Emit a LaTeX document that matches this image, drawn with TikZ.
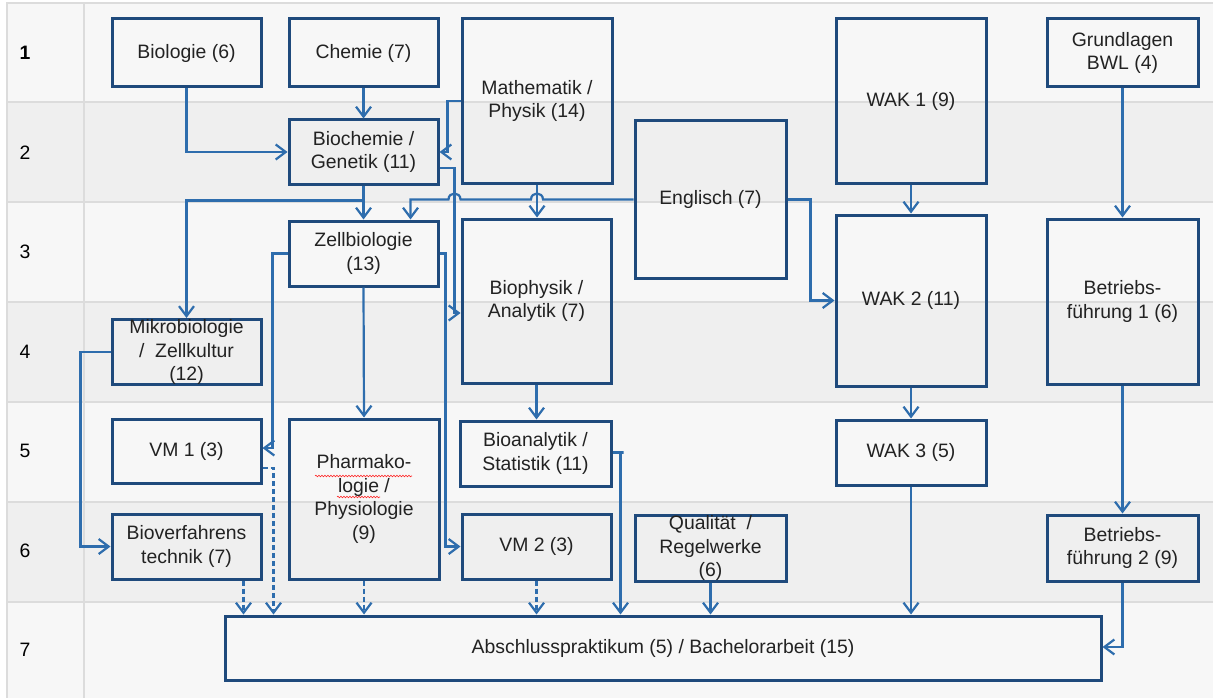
\documentclass[tikz,border=0pt]{standalone}
\usepackage{fontspec}
\setmainfont{Liberation Sans}
\usetikzlibrary{arrows.meta,calc,decorations.pathmorphing}

\definecolor{boxblue}{HTML}{1F4A7C}
\definecolor{arrblue}{HTML}{2E6DAD}
\definecolor{rowlight}{HTML}{F7F7F7}
\definecolor{rowdark}{HTML}{EFEFEF}
\definecolor{gridgray}{HTML}{DCDCDC}
\definecolor{txtgray}{HTML}{222222}
\newcommand{\modfont}{\fontsize{19.4}{23.5}\selectfont}

\tikzset{
  modul/.style={draw=boxblue, line width=3pt, align=center, text=txtgray, inner sep=0pt, font=\modfont},
  arr/.style={draw=arrblue, line width=2.2pt, -{Straight Barb[length=10pt,width=15pt,line width=2.2pt]}},
  darr/.style={arr, dash pattern=on 5pt off 3pt},
}

\begin{document}
\begin{tikzpicture}[x=1pt,y=-1pt]
    \useasboundingbox (0,0) rectangle (1213,698);
    \fill[white] (0,0) rectangle (1213,698);

    % table rows
    \foreach \r/\col in {1/rowlight,2/rowdark,3/rowlight,4/rowdark,5/rowlight,6/rowdark,7/rowlight} {
        \fill[\col] (7,{2+(\r-1)*100}) rectangle (1213,{2+\r*100});
    }
    \foreach \yy in {102,202,302,402,502,602} {
        \draw[gridgray, line width=2pt] (7,\yy) -- (1213,\yy);
    }
    \draw[gridgray, line width=2pt] (1213,3) -- (7,3) -- (7,698);
    \draw[gridgray, line width=1.5pt] (84,3) -- (84,698);
    \foreach \r in {1,...,7} {
        \node[font=\modfont, text=black] (row\r) at (25,{53+(\r-1)*99.5}) {\ifnum\r=1\bfseries\fi\r};
    }

    % modules
    \node[modul, minimum width=149pt, minimum height=68pt] (bio) at (186.5,53) {Biologie (6)};
    \node[modul, minimum width=149pt, minimum height=68pt] (chem) at (363.5,53) {Chemie (7)};
    \node[modul, minimum width=150pt, minimum height=164pt] (math) at (537,101) {Mathematik /\\Physik (14)};
    \node[modul, minimum width=150pt, minimum height=164pt] (wak1) at (911,101) {WAK 1 (9)};
    \node[modul, minimum width=151pt, minimum height=68pt] (bwl) at (1122.5,53) {Grundlagen\\BWL (4)};
    \node[modul, minimum width=149pt, minimum height=64pt] (bioch) at (363.5,152) {Biochemie /\\Genetik (11)};
    \node[modul, minimum width=151pt, minimum height=157pt] (engl) at (710.5,199.5) {Englisch (7)};
    \node[modul, minimum width=149pt, minimum height=65pt] (zell) at (363.5,253.5) {Zellbiologie\\(13)};
    \node[modul, minimum width=149pt, minimum height=164pt] (biophys) at (536.5,301) {Biophysik /\\Analytik (7)};
    \node[modul, minimum width=150pt, minimum height=171pt] (wak2) at (911,300.5) {WAK 2 (11)};
    \node[modul, minimum width=151pt, minimum height=165pt] (bf1) at (1122.5,301.5) {Betriebs-\\führung 1 (6)};
    \node[modul, minimum width=149pt, minimum height=64pt] (mikro) at (186.5,352) {Mikrobiologie\\/\ \ Zellkultur\\(12)};
    \node[modul, minimum width=149pt, minimum height=64pt] (vm1) at (186.5,451) {VM 1 (3)};
    \node[modul, minimum width=150pt, minimum height=160pt] (pharma) at (364,499) {Pharmako-\\logie /\\Physiologie\\(9)};
    \node[modul, minimum width=151pt, minimum height=65pt] (bioana) at (535.5,453.5) {Bioanalytik /\\Statistik (11)};
    \node[modul, minimum width=150pt, minimum height=65pt] (wak3) at (911,452.5) {WAK 3 (5)};
    \node[modul, minimum width=149pt, minimum height=65pt] (biov) at (186.5,546.5) {Bioverfahrens\\technik (7)};
    \node[modul, minimum width=149pt, minimum height=65pt] (vm2) at (536.5,546.5) {VM 2 (3)};
    \node[modul, minimum width=151pt, minimum height=66pt] (qual) at (710.5,548) {Qualität\ \ /\\Regelwerke\\(6)};
    \node[modul, minimum width=151pt, minimum height=66pt] (bf2) at (1122.5,548) {Betriebs-\\führung 2 (9)};
    \node[modul, minimum width=876pt, minimum height=64pt] (absch) at (663,648) {Abschlusspraktikum (5) / Bachelorarbeit (15)};

    % spell-check marks
    \draw[red!85, line width=0.6pt, decorate, decoration={snake, amplitude=0.8pt, segment length=3pt}] ($(pharma.center)+(-49,-23)$) -- ($(pharma.center)+(48,-23)$);
    \draw[red!85, line width=0.6pt, decorate, decoration={snake, amplitude=0.8pt, segment length=3pt}] ($(pharma.center)+(-27,-2)$) -- ($(pharma.center)+(16,-2)$);

    \coordinate (hopA) at (math.south |- engl.west);
    \coordinate (bcR) at ($(bioch.east)+(15,16)$);
    \coordinate (hopB) at (bcR |- engl.west);
    \coordinate (zellE) at ($(zell.north east)+(-29,0)$);
    \coordinate (biovD) at ($(biov.south east)+(-19,0)$);

    % connectors
    \draw[arr] (bio.south) |- (bioch.west);
    \draw[arr] (chem.south) -- (bioch.north);
    \draw[arr] (math.west) -- ++(-13,0) |- (bioch.east);
    \draw[arr] ($(bioch.east)+(0,16)$) -- (bcR) |- ($(biophys.west)+(0,12)$);
    \draw[arr] (bioch.south) -- (zell.north);
    \draw[arr] (bioch.south) -- ++(0,15) -| (mikro.north);
    \draw[arr] (engl.west) -- ($(hopA)+(6,0)$) .. controls +(0,-8) and +(0,-8) .. ($(hopA)+(-6,0)$)
        -- ($(hopB)+(6,0)$) .. controls +(0,-8) and +(0,-8) .. ($(hopB)+(-6,0)$) -| (zellE);
    \draw[arr] (math.south) -- (math.south |- biophys.north);
    \draw[arr] (engl.east) -- ++(23,0) |- (wak2.west);
    \draw[arr] (wak1.south) -- (wak2.north);
    \draw[arr] (bwl.south) -- (bf1.north);
    \draw[arr] (zell.west) -- ++(-15,0) |- ($(vm1.east)+(0,-3)$);
    \draw[arr] (zell.south) -- (pharma.north);
    \draw[arr] (zell.east) -- ++(6,0) |- (vm2.west);
    \draw[arr] (mikro.west) -- ++(-30,0) |- (biov.west);
    \draw[arr] (biophys.south) -- (biophys.south |- bioana.north);
    \draw[arr] (wak2.south) -- (wak3.north);
    \draw[arr] (bf1.south) -- (bf2.north);
    \draw[arr] ($(bioana.east)+(0,-1)$) -- ++(11,0) -| ($(absch.north west)+(397,0)$);
    \draw[arr] (qual.south) -- (qual.south |- absch.north);
    \draw[arr] (wak3.south) -- (wak3.south |- absch.north);
    \draw[arr] (bf2.south) |- ($(absch.east)+(0,-1)$);
    \draw[darr] ($(vm1.east)+(0,17)$) -| ($(absch.north west)+(50,0)$);
    \draw[darr] (biovD) -- (biovD |- absch.north);
    \draw[darr] (pharma.south) -- (pharma.south |- absch.north);
    \draw[darr] (vm2.south) -- (vm2.south |- absch.north);
\end{tikzpicture}
\end{document}
